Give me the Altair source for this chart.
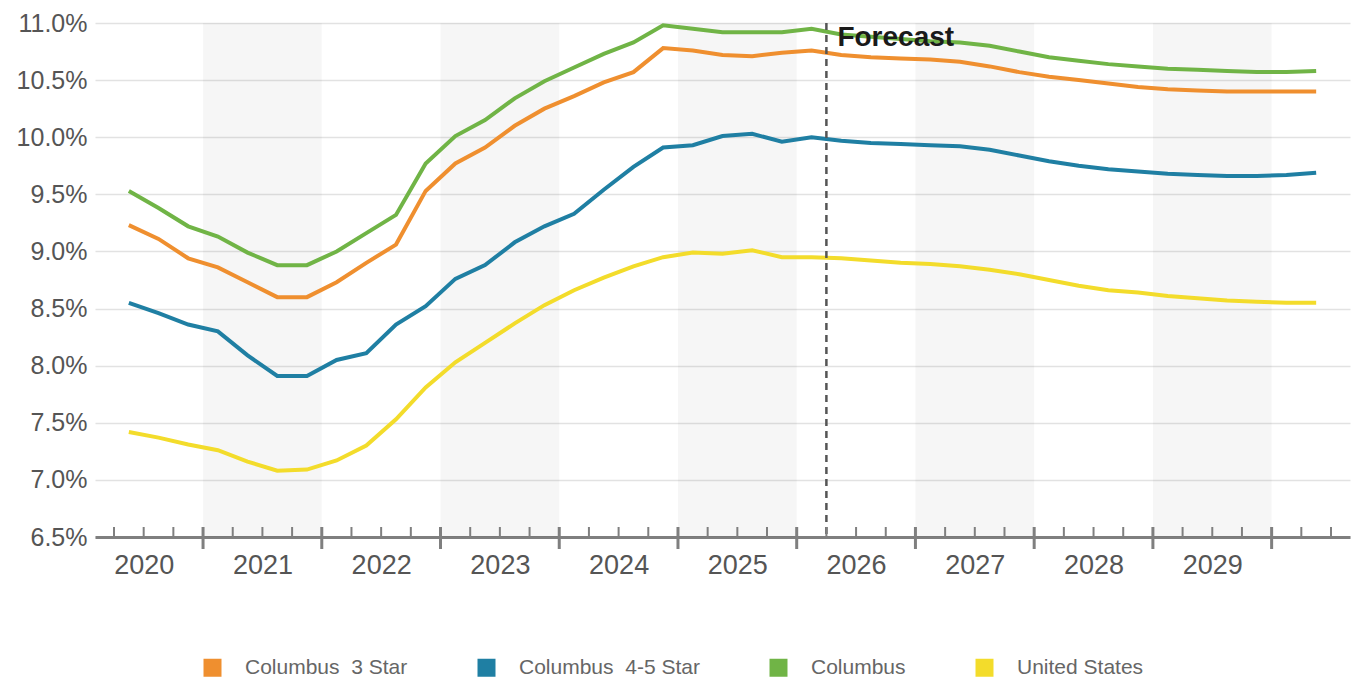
import altair as alt
import pandas as pd

# Quarterly series, 2020 Q2 through 2030 Q2 (values in percent)
NB = "\u00a0"
series_names = [f"Columbus{NB}{NB}3 Star", f"Columbus{NB}{NB}4-5 Star", "Columbus", "United States"]
series_colors = ["#ef8f2f", "#1f7fa3", "#70b446", "#f3dc2b"]

columbus_3_star = [9.23, 9.11, 8.94, 8.86, 8.73, 8.60, 8.60, 8.73, 8.90, 9.06,
                   9.53, 9.77, 9.91, 10.10, 10.25, 10.36, 10.48, 10.57, 10.78, 10.76,
                   10.72, 10.71, 10.74, 10.76, 10.72, 10.70, 10.69, 10.68, 10.66, 10.62,
                   10.57, 10.53, 10.50, 10.47, 10.44, 10.42, 10.41, 10.40, 10.40, 10.40, 10.40]
columbus_4_5_star = [8.55, 8.46, 8.36, 8.30, 8.09, 7.91, 7.91, 8.05, 8.11, 8.36,
                     8.52, 8.76, 8.88, 9.08, 9.22, 9.33, 9.54, 9.74, 9.91, 9.93,
                     10.01, 10.03, 9.96, 10.00, 9.97, 9.95, 9.94, 9.93, 9.92, 9.89,
                     9.84, 9.79, 9.75, 9.72, 9.70, 9.68, 9.67, 9.66, 9.66, 9.67, 9.69]
columbus = [9.53, 9.38, 9.22, 9.13, 8.99, 8.88, 8.88, 9.00, 9.16, 9.32,
            9.77, 10.01, 10.15, 10.34, 10.49, 10.61, 10.73, 10.83, 10.98, 10.95,
            10.92, 10.92, 10.92, 10.95, 10.90, 10.88, 10.86, 10.84, 10.83, 10.80,
            10.75, 10.70, 10.67, 10.64, 10.62, 10.60, 10.59, 10.58, 10.57, 10.57, 10.58]
united_states = [7.42, 7.37, 7.31, 7.26, 7.16, 7.08, 7.09, 7.17, 7.30, 7.53,
                 7.81, 8.03, 8.20, 8.37, 8.53, 8.66, 8.77, 8.87, 8.95, 8.99,
                 8.98, 9.01, 8.95, 8.95, 8.94, 8.92, 8.90, 8.89, 8.87, 8.84,
                 8.80, 8.75, 8.70, 8.66, 8.64, 8.61, 8.59, 8.57, 8.56, 8.55, 8.55]

years = list(range(2020, 2030))
shaded_years = [2021, 2023, 2025, 2027, 2029]
forecast_start = 2026.25
y_ticks = [6.5, 7.0, 7.5, 8.0, 8.5, 9.0, 9.5, 10.0, 10.5, 11.0]

# (year, quarter) pairs for each observation; plotted at the middle of the quarter
periods = [(y, q) for y in range(2020, 2031) for q in (1, 2, 3, 4)][1:42]
times = [y + (q - 0.5) / 4 for y, q in periods]

rows = []
for name, vals in zip(series_names, [columbus_3_star, columbus_4_5_star, columbus, united_states]):
    for t, v in zip(times, vals):
        rows.append({"t": t, "value": v, "series": name})
df = pd.DataFrame(rows)

bands = pd.DataFrame({"start": shaded_years, "end": [y + 1 for y in shaded_years]})
minor_ticks = pd.DataFrame({"pos": [y + q / 4 for y in range(2020, 2031) for q in (1, 2, 3)
                                    if y + q / 4 <= 2030.5]})
major_ticks = pd.DataFrame({"pos": list(range(2021, 2031))})
forecast = pd.DataFrame({"t": [forecast_start], "label": ["Forecast"]})

W, H = 1255, 514
FONT = "Liberation Sans"

xs = alt.Scale(domain=[2020.09, 2030.66], nice=False, zero=False)
ys = alt.Scale(domain=[6.5, 11.0], nice=False, zero=False)

xaxis = alt.Axis(values=[y + 0.5 for y in years], labelExpr="format(floor(datum.value), 'd')",
                 title=None, grid=False, ticks=False, domain=True, domainColor="#7f7f7f",
                 domainWidth=3, labelFontSize=27, labelColor="#555555", labelFont=FONT,
                 labelPadding=15, labelFlush=False, labelOverlap=False)
yaxis = alt.Axis(values=y_ticks, labelExpr="format(datum.value, '.1f') + '%'", title=None,
                 grid=True, gridColor="#e2e2e2", gridWidth=1.5, ticks=False, domain=False,
                 labelFontSize=25, labelColor="#555555", labelFont=FONT, labelPadding=8)

band_layer = alt.Chart(bands).mark_rect(color="#000000", opacity=0.035).encode(
    x=alt.X("start:Q", scale=xs, axis=xaxis), x2="end:Q",
    y=alt.value(0), y2=alt.value(H))

forecast_rule = alt.Chart(forecast).mark_rule(color="#555555", strokeWidth=2.5,
                                              strokeDash=[7, 5]).encode(
    x=alt.X("t:Q", scale=xs, axis=xaxis), y=alt.value(0), y2=alt.value(H))

# Legend swatches: a small square with a heavy outline reads as a solid block
lines = alt.Chart(df).mark_line(strokeWidth=4).encode(
    x=alt.X("t:Q", scale=xs, axis=xaxis),
    y=alt.Y("value:Q", scale=ys, axis=yaxis),
    color=alt.Color("series:N",
                    scale=alt.Scale(domain=series_names, range=series_colors),
                    legend=alt.Legend(title=None, orient="none", legendX=107, legendY=634,
                                      direction="horizontal", symbolType="square",
                                      symbolSize=16, symbolStrokeWidth=14,
                                      labelFontSize=21, labelColor="#666666", labelLimit=0,
                                      labelFont=FONT, labelOffset=22, columnPadding=48)))

minor_layer = alt.Chart(minor_ticks).mark_rule(color="#7f7f7f", strokeWidth=2).encode(
    x=alt.X("pos:Q", scale=xs, axis=xaxis), y=alt.value(H - 10), y2=alt.value(H))
major_layer = alt.Chart(major_ticks).mark_rule(color="#7f7f7f", strokeWidth=3).encode(
    x=alt.X("pos:Q", scale=xs, axis=xaxis), y=alt.value(H - 10), y2=alt.value(H + 12))

forecast_text = alt.Chart(forecast).mark_text(align="left", baseline="middle", dx=11,
                                              fontSize=28, fontWeight="bold",
                                              color="#1a1a1a", font=FONT).encode(
    x=alt.X("t:Q", scale=xs, axis=xaxis), y=alt.value(15), text="label:N")

chart = alt.layer(band_layer, lines, forecast_rule, minor_layer, major_layer,
                  forecast_text).properties(
    width=W, height=H, autosize="none",
    padding={"left": 95, "top": 23, "right": 13, "bottom": 149},
    background="white",
).configure_view(stroke=None)

chart.save("out.html", embed_options={"renderer": "svg", "actions": False})
